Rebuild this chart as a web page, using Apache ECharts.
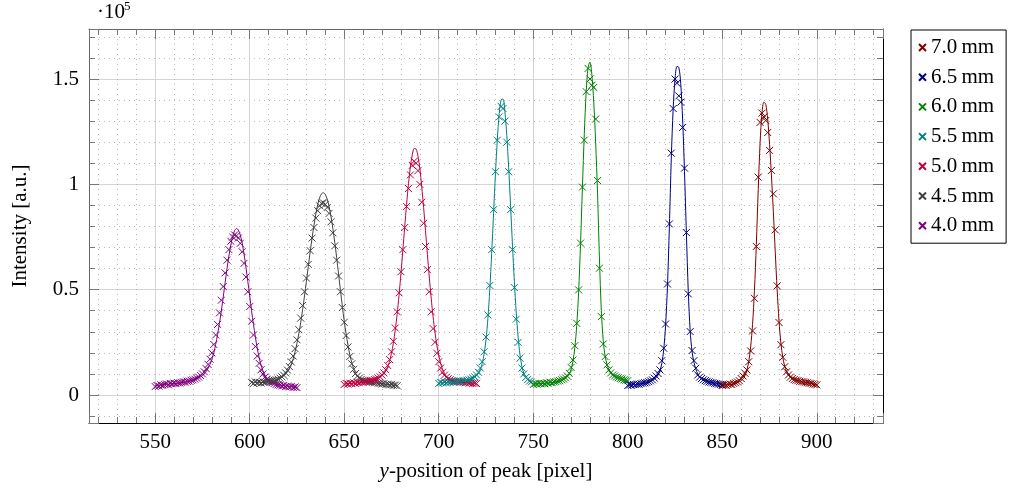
<!DOCTYPE html>
<html><head><meta charset="utf-8">
<script src="https://cdn.jsdelivr.net/npm/echarts@6/dist/echarts.min.js"></script>
<style>html,body{margin:0;padding:0;background:#fff}#c{width:1010px;height:491px}</style>
</head><body><div id="c"></div>
<script>
const FONT = '"Liberation Serif","DejaVu Serif",serif';

// Legend order (top to bottom)
const names = ['7.0\u2009mm','6.5\u2009mm','6.0\u2009mm','5.5\u2009mm','5.0\u2009mm','4.5\u2009mm','4.0\u2009mm'];
const colors = ['#800000','#000080','#008000','#008080','#bf0040','#404040','#800080'];

// axis ranges
const xRange = [515, 935];
const yRange = [-0.133, 1.7375];

// ---- measured points (intensity in units of 1e5), x = start + index ----
const start40 = 550;
const pts40 = [0.040,0.045,0.042,0.048,0.046,0.050,0.052,0.049,0.055,0.053,0.056,0.054,0.058,0.057,0.060,0.062,0.061,0.065,0.066,0.070,
0.072,0.075,0.080,0.085,0.092,0.100,0.110,0.125,0.145,0.170,0.200,0.240,0.285,0.335,0.390,0.450,0.515,0.580,0.640,0.690,
0.730,0.750,0.760,0.755,0.745,0.720,0.680,0.625,0.560,0.490,0.420,0.350,0.285,0.230,0.185,0.150,0.120,0.100,0.085,0.075,
0.068,0.062,0.058,0.055,0.050,0.048,0.046,0.043,0.045,0.040,0.042,0.038,0.040,0.036,0.038,0.035];

const start45 = 601;
const pts45 = [0.060,0.055,0.062,0.058,0.060,0.057,0.062,0.060,0.064,0.063,0.066,0.068,0.070,0.072,0.075,0.080,0.086,0.094,0.105,0.118,
0.135,0.157,0.185,0.220,0.262,0.310,0.365,0.425,0.490,0.555,0.620,0.685,0.745,0.795,0.840,0.875,0.898,0.910,0.912,0.905,
0.890,0.862,0.822,0.770,0.708,0.640,0.565,0.490,0.415,0.345,0.282,0.228,0.183,0.148,0.122,0.102,0.090,0.080,0.074,0.070,
0.066,0.065,0.062,0.063,0.060,0.058,0.060,0.056,0.055,0.052,0.054,0.050,0.052,0.048,0.050,0.046,0.047,0.044];

const start50 = 650;
const pts50 = [0.050,0.055,0.052,0.056,0.054,0.058,0.055,0.060,0.058,0.062,0.060,0.063,0.064,0.066,0.068,0.070,0.073,0.076,0.080,0.086,
0.094,0.105,0.120,0.140,0.168,0.205,0.255,0.318,0.395,0.485,0.585,0.690,0.795,0.895,0.980,1.045,1.090,1.110,1.100,1.065,
1.000,0.915,0.815,0.705,0.595,0.490,0.395,0.315,0.250,0.198,0.158,0.128,0.108,0.094,0.084,0.077,0.072,0.068,0.066,0.063,
0.064,0.061,0.062,0.060,0.058,0.060,0.057,0.058,0.055,0.056,0.054];

const start55 = 700;
const pts55 = [0.055,0.060,0.057,0.062,0.058,0.063,0.060,0.064,0.061,0.065,0.063,0.066,0.064,0.068,0.067,0.070,0.072,0.075,0.080,0.086,
0.095,0.108,0.128,0.158,0.205,0.275,0.380,0.520,0.690,0.880,1.060,1.210,1.320,1.370,1.360,1.300,1.200,1.060,0.880,0.690,
0.510,0.360,0.250,0.175,0.128,0.100,0.083,0.073,0.066,0.062];

const start60 = 750;
const pts60 = [0.050,0.054,0.051,0.055,0.053,0.056,0.054,0.058,0.056,0.060,0.058,0.062,0.063,0.066,0.068,0.072,0.076,0.082,0.090,0.103,
0.131,0.166,0.234,0.340,0.499,0.721,0.987,1.210,1.440,1.550,1.500,1.470,1.460,1.310,1.018,0.602,0.372,0.242,0.182,0.143,
0.119,0.105,0.095,0.090,0.085,0.082,0.078,0.076,0.072,0.070,0.068];

const start65 = 800;
const pts65 = [0.045,0.048,0.046,0.050,0.049,0.052,0.051,0.054,0.056,0.058,0.060,0.063,0.067,0.072,0.080,0.090,0.102,0.119,0.163,0.222,
0.337,0.527,0.812,1.148,1.360,1.500,1.480,1.420,1.390,1.270,1.077,0.771,0.480,0.301,0.211,0.163,0.127,0.095,0.085,0.078,
0.072,0.068,0.065,0.062,0.060,0.058,0.055,0.054,0.052,0.050,0.048];

const start70 = 850;
const pts70 = [0.045,0.048,0.046,0.050,0.052,0.050,0.055,0.058,0.062,0.068,0.078,0.090,0.103,0.119,0.158,0.209,0.304,0.459,0.705,1.034,
1.294,1.338,1.320,1.303,1.246,1.161,1.066,0.955,0.784,0.518,0.344,0.239,0.179,0.134,0.110,0.095,0.085,0.078,0.073,0.070,
0.068,0.065,0.063,0.062,0.060,0.058,0.056,0.055,0.052,0.050,0.048];

// ---- fitted curves: x list and y list ----
const fitX40 = [550,555,560,565,570,573,575,577,579,580,581,582,583,584,585,586,587,588,589,590,591,592,593,594,595,596,597,598,599,600,601,602,603,604,605,606,607,608,610,613,617,621,625];
const fitY40 = [0.045,0.050,0.054,0.060,0.070,0.080,0.092,0.112,0.145,0.170,0.200,0.240,0.287,0.340,0.400,0.465,0.533,0.600,0.660,0.712,0.752,0.780,0.790,0.783,0.760,0.722,0.670,0.608,0.540,0.470,0.400,0.335,0.275,0.222,0.178,0.142,0.115,0.095,0.070,0.055,0.046,0.041,0.037];

const fitX45 = [601,605,610,613,616,618,620,621,622,623,624,625,626,627,628,629,630,631,632,633,634,635,636,637,638,639,640,641,642,643,644,645,646,647,648,649,650,651,652,653,654,655,656,658,660,663,667,672,678];
const fitY45 = [0.060,0.060,0.063,0.068,0.078,0.090,0.110,0.125,0.145,0.172,0.205,0.245,0.292,0.345,0.405,0.470,0.540,0.610,0.680,0.745,0.805,0.860,0.905,0.937,0.955,0.960,0.952,0.930,0.895,0.848,0.790,0.725,0.652,0.575,0.497,0.422,0.352,0.290,0.236,0.190,0.153,0.125,0.104,0.080,0.070,0.063,0.057,0.051,0.045];

const fitX50 = [650,655,660,663,666,668,670,671,672,673,674,675,676,677,678,679,680,681,682,683,684,685,686,687,688,689,690,691,692,693,694,695,696,697,698,699,700,701,702,703,704,706,708,712,716,720];
const fitY50 = [0.052,0.056,0.060,0.065,0.072,0.080,0.092,0.102,0.116,0.135,0.162,0.198,0.246,0.308,0.384,0.474,0.576,0.686,0.798,0.906,1.003,1.083,1.140,1.170,1.168,1.135,1.074,0.990,0.890,0.780,0.668,0.560,0.460,0.372,0.298,0.236,0.188,0.150,0.122,0.102,0.088,0.073,0.066,0.061,0.058,0.055];

const fitX55 = [700,705,710,714,717,719,720,721,722,723,724,725,726,727,728,729,730,731,732,733,734,735,736,737,738,739,740,741,742,743,744,745,746,747,749];
const fitY55 = [0.057,0.060,0.064,0.068,0.075,0.084,0.092,0.104,0.122,0.150,0.194,0.262,0.362,0.500,0.672,0.862,1.050,1.215,1.336,1.402,1.405,1.345,1.232,1.078,0.898,0.712,0.538,0.390,0.274,0.190,0.135,0.102,0.083,0.073,0.064];

const fitX60 = [750,755,760,763,765,767,768,769,770,771,772,773,774,775,776,777,778,779,780,781,782,783,784,785,786,787,788,789,790,791,793,796,800];
const fitY60 = [0.052,0.055,0.059,0.064,0.069,0.078,0.086,0.099,0.122,0.160,0.225,0.330,0.490,0.715,0.985,1.240,1.440,1.555,1.580,1.520,1.390,1.200,0.960,0.650,0.400,0.260,0.185,0.145,0.120,0.104,0.088,0.078,0.069];

const fitX65 = [800,805,810,813,815,816,817,818,819,820,821,822,823,824,825,826,827,828,829,830,831,832,833,834,835,836,837,838,840,843,846,850];
const fitY65 = [0.047,0.051,0.058,0.068,0.082,0.095,0.115,0.150,0.215,0.330,0.520,0.800,1.120,1.360,1.500,1.560,1.555,1.480,1.310,1.060,0.770,0.490,0.305,0.205,0.155,0.122,0.100,0.087,0.074,0.064,0.057,0.050];

const fitX70 = [850,855,858,860,861,862,863,864,865,866,867,868,869,870,871,872,873,874,875,876,877,878,879,880,881,882,883,884,885,887,890,895,900];
const fitY70 = [0.047,0.051,0.058,0.068,0.077,0.092,0.118,0.160,0.228,0.335,0.495,0.715,0.975,1.200,1.340,1.390,1.380,1.310,1.190,1.040,0.870,0.680,0.500,0.350,0.245,0.178,0.137,0.112,0.097,0.080,0.068,0.058,0.049];

// Draw order: 4.0 mm first, 7.0 mm last
const sets = [
  {name: names[6], color: colors[6], start: start40, pts: pts40, fx: fitX40, fy: fitY40},
  {name: names[5], color: colors[5], start: start45, pts: pts45, fx: fitX45, fy: fitY45},
  {name: names[4], color: colors[4], start: start50, pts: pts50, fx: fitX50, fy: fitY50},
  {name: names[3], color: colors[3], start: start55, pts: pts55, fx: fitX55, fy: fitY55},
  {name: names[2], color: colors[2], start: start60, pts: pts60, fx: fitX60, fy: fitY60},
  {name: names[1], color: colors[1], start: start65, pts: pts65, fx: fitX65, fy: fitY65},
  {name: names[0], color: colors[0], start: start70, pts: pts70, fx: fitX70, fy: fitY70}
];

const XMARK = 'path://M0,0L10,10M10,0L0,10';
const series = [];
sets.forEach(s => {
  series.push({
    type: 'scatter', name: s.name,
    data: s.pts.map((v, i) => [s.start + i, v]),
    symbol: XMARK, symbolSize: 7,
    itemStyle: {color: s.color, borderColor: s.color, borderWidth: 1, opacity: 1},
    emphasis: {disabled: true}, z: 3
  });
  series.push({
    type: 'line', name: s.name + ' fit',
    data: s.fx.map((x, i) => [x, s.fy[i]]),
    showSymbol: false, symbol: 'none', smooth: 0.3,
    lineStyle: {color: s.color, width: 1},
    itemStyle: {color: s.color},
    emphasis: {disabled: true}, silent: true, z: 4
  });
});

const tickGray = '#777';
const baseX = {
  type: 'value', min: xRange[0], max: xRange[1], splitNumber: 8,
  axisTick: {show: true, inside: true, length: 10, lineStyle: {color: tickGray, width: 1}},
  minorTick: {show: true, splitNumber: 5, length: 6, lineStyle: {color: tickGray, width: 1}}
};
const baseY = {
  type: 'value', min: yRange[0], max: yRange[1], splitNumber: 4,
  axisTick: {show: true, inside: true, length: 10, lineStyle: {color: tickGray, width: 1}},
  minorTick: {show: true, splitNumber: 5, length: 6, lineStyle: {color: tickGray, width: 1}}
};

const option = {
  animation: false,
  backgroundColor: '#fff',
  textStyle: {fontFamily: FONT},
  grid: {left: 89, right: 127, top: 29, bottom: 68, containLabel: false},
  legend: {
    data: names, orient: 'vertical', left: 911, top: 30,
    itemWidth: 7, itemHeight: 7, itemGap: 8.7,
    padding: [7, 12, 7, 7],
    borderColor: '#000', borderWidth: 1, backgroundColor: '#fff',
    textStyle: {fontFamily: FONT, fontSize: 21, color: '#000', lineHeight: 20},
    selectedMode: false
  },
  xAxis: [
    Object.assign({}, baseX, {
      position: 'bottom',
      axisLine: {show: true, onZero: false, lineStyle: {color: '#000', width: 1}},
      axisLabel: {fontFamily: FONT, fontSize: 21, color: '#000', margin: 9, showMinLabel: false, showMaxLabel: false},
      splitLine: {show: true, lineStyle: {color: '#d4d4d4', width: 1}},
      minorSplitLine: {show: true, lineStyle: {color: '#b8b8b8', width: 1, type: [1, 4]}},
      name: '{i|y}-position of peak [pixel]', nameLocation: 'middle', nameGap: 38,
      nameTextStyle: {fontFamily: FONT, fontSize: 21, color: '#000',
        rich: {i: {fontFamily: FONT, fontSize: 21, fontStyle: 'italic', color: '#000'}}}
    }),
    Object.assign({}, baseX, {
      position: 'top',
      axisLine: {show: true, onZero: false, lineStyle: {color: '#666', width: 1}},
      axisLabel: {show: false}, splitLine: {show: false}
    })
  ],
  yAxis: [
    Object.assign({}, baseY, {
      position: 'left',
      axisLine: {show: true, onZero: false, lineStyle: {color: '#666', width: 1}},
      axisLabel: {fontFamily: FONT, fontSize: 21, color: '#000', margin: 10, showMinLabel: false, showMaxLabel: false},
      splitLine: {show: true, lineStyle: {color: '#d4d4d4', width: 1}},
      minorSplitLine: {show: true, lineStyle: {color: '#b8b8b8', width: 1, type: [1, 4]}},
      name: 'Intensity [a.u.]', nameLocation: 'middle', nameGap: 58, nameRotate: 90,
      nameTextStyle: {fontFamily: FONT, fontSize: 21, color: '#000'}
    }),
    Object.assign({}, baseY, {
      position: 'right',
      axisLine: {show: true, onZero: false, lineStyle: {color: '#000', width: 1}},
      axisLabel: {show: false}, splitLine: {show: false}
    })
  ],
  graphic: [
    {type: 'text', left: 97, top: 2, style: {text: '\u00b710', font: '21px ' + FONT, fill: '#000'}},
    {type: 'text', left: 124, top: 0, style: {text: '5', font: '13px ' + FONT, fill: '#000'}}
  ],
  series: series
};

const chart = echarts.init(document.getElementById('c'), null, {renderer: 'canvas'});
chart.setOption(option);
</script>
</body></html>
